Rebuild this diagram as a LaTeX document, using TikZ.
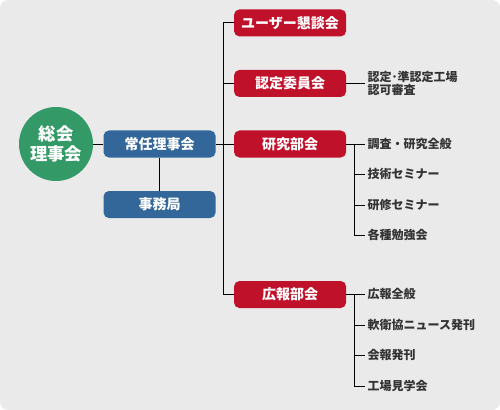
\documentclass[tikz,border=0pt]{standalone}
\usepackage{fontspec}
\setmainfont{Noto Sans CJK JP}
\usetikzlibrary{positioning, calc}
\definecolor{soukaigreen}{HTML}{339966}
\definecolor{joninblue}{HTML}{336699}
\definecolor{bukaired}{HTML}{C0112B}
\definecolor{panelgray}{HTML}{EAEAEA}
\definecolor{itemgray}{HTML}{333333}

\begin{document}
\begin{tikzpicture}[
	x=0.75pt, y=-0.75pt,
	council/.style={circle, fill=soukaigreen, text=white, minimum size=55.5pt, inner sep=0pt, font=\bfseries\fontsize{13}{14.5}\selectfont, align=center},
	standing/.style={rectangle, fill=joninblue, rounded corners=4pt, text=white, minimum width=84pt, minimum height=20.25pt, inner sep=0pt, font=\bfseries\fontsize{10.5}{12}\selectfont},
	bukai/.style={standing, fill=bukaired},
	item/.style={inner xsep=1.5pt, inner ysep=0pt, text=itemgray, text height=7.5pt, text depth=1.5pt, font=\bfseries\fontsize{9}{9.5}\selectfont},
	link/.style={line width=0.75pt, black}
]

% Panel
\fill[panelgray, rounded corners=6pt] (0,0) rectangle (500,410);

% Main bodies
\node[council] (soukai) at (56,144) {総会\\理事会};
\node[standing, right=7.5pt of soukai] (jonin) {常任理事会};
\node[standing, below=24.75pt of jonin] (jimu) {事務局};

% Committees
\node[bukai, right=13.5pt of jonin] (kenkyu) {研究部会};
\node[bukai, above=24.75pt of kenkyu] (nintei) {認定委員会};
\node[bukai, above=24.75pt of nintei] (user) {ユーザー懇談会};
\node[bukai, below=92.25pt of kenkyu] (kouhou) {広報部会};

% Activities
\node[item, right=14.25pt of nintei, text height=, text depth=, align=left] (shinsa) {認定･準認定工場\\認可審査};
\node[item, right=14.25pt of kenkyu] (chousa) {調査・研究全般};
\node[item, below=13.5pt of chousa.south west, anchor=north west] (gijutsu) {技術セミナー};
\node[item, below=13.5pt of gijutsu.south west, anchor=north west] (kenshu) {研修セミナー};
\node[item, below=13.5pt of kenshu.south west, anchor=north west] (benkyo) {各種勉強会};
\node[item, right=14.25pt of kouhou] (zenpan) {広報全般};
\node[item, below=13.5pt of zenpan.south west, anchor=north west] (news) {軟衛協ニュース発刊};
\node[item, below=13.5pt of news.south west, anchor=north west] (kaihou) {会報発刊};
\node[item, below=13.5pt of kaihou.south west, anchor=north west] (kengaku) {工場見学会};

% Organisation lines
\coordinate (trunk) at ($(jonin.east)!0.44!(kenkyu.west)$);
\draw[link] (soukai) -- (jonin);
\draw[link] (jonin) -- (jimu);
\draw[link] (jonin) -- (kenkyu);
\draw[link] (user.west) -| (trunk |- kouhou.west) -- (kouhou.west);
\draw[link] (nintei.west) -- (trunk |- nintei.west);

% Activity lines
\draw[link] (nintei) -- (shinsa);
\coordinate (kbranch) at ($(kenkyu.east)+(8,0)$);
\draw[link] (kenkyu) -- (chousa);
\draw[link] (kbranch) |- (benkyo.west);
\draw[link] (gijutsu.west -| kbranch) -- (gijutsu.west);
\draw[link] (kenshu.west -| kbranch) -- (kenshu.west);
\coordinate (hbranch) at ($(kouhou.east)+(8,0)$);
\draw[link] (kouhou) -- (zenpan);
\draw[link] (hbranch) |- (kengaku.west);
\draw[link] (news.west -| hbranch) -- (news.west);
\draw[link] (kaihou.west -| hbranch) -- (kaihou.west);

\end{tikzpicture}
\end{document}
